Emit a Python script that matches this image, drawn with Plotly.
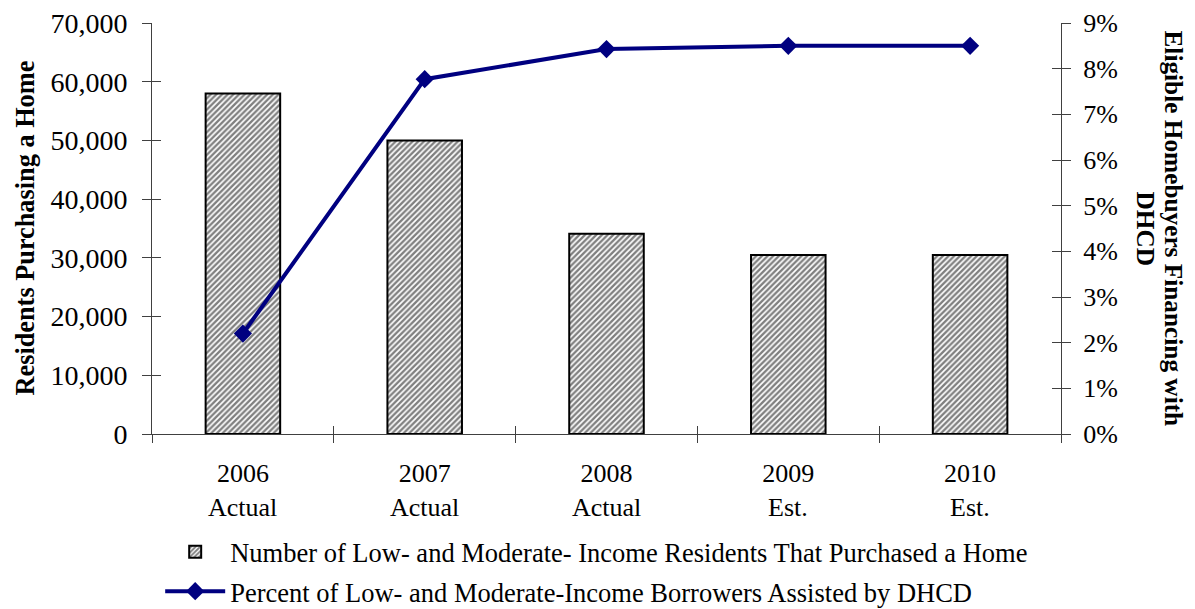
import plotly.graph_objects as go

# Homebuyer data, 2006-2010
years = ["2006", "2007", "2008", "2009", "2010"]
status = ["Actual", "Actual", "Actual", "Est.", "Est."]
residents_purchased = [58000, 50000, 34100, 30500, 30500]
pct_assisted = [0.022, 0.0777, 0.0843, 0.085, 0.085]

bar_name = "Number of Low- and Moderate- Income Residents That Purchased a Home"
line_name = "Percent of Low- and Moderate-Income Borrowers Assisted by DHCD"

FONT = "Liberation Serif"
AXIS_COLOR = "#404040"

# numeric slot for each year so the category boundaries can carry ticks
pos = list(range(len(years)))
x_range = [-0.5, len(years) - 0.5]
boundaries = [p - 0.5 for p in pos] + [pos[-1] + 0.5]

fig = go.Figure()

fig.add_trace(go.Bar(
    x=pos, y=residents_purchased, name=bar_name, legendgroup="bars",
    marker=dict(
        color="white",
        line=dict(color="black", width=2),
        pattern=dict(shape="/", fgcolor="black", bgcolor="white",
                     size=4, solidity=0.58),
    ),
    xaxis="x", yaxis="y",
))

fig.add_trace(go.Scatter(
    x=pos, y=pct_assisted, name=line_name, mode="lines+markers",
    legendgroup="line",
    line=dict(color="#000080", width=4),
    marker=dict(symbol="diamond", size=14, color="#000080"),
    xaxis="x", yaxis="y2",
))

# invisible carriers so the tick-only overlay axes get drawn
fig.add_trace(go.Scatter(x=x_range, y=[0, 0], mode="markers", opacity=0,
                         showlegend=False, hoverinfo="skip",
                         xaxis="x2", yaxis="y3"))
fig.add_trace(go.Scatter(x=x_range, y=[0, 0], mode="markers", opacity=0,
                         showlegend=False, hoverinfo="skip",
                         xaxis="x3", yaxis="y4"))

tick_only = dict(showticklabels=False, showline=False, showgrid=False,
                 zeroline=False, tickcolor=AXIS_COLOR, automargin=False)

fig.update_layout(
    width=1195, height=609,
    margin=dict(l=152, r=134, t=23, b=175, autoexpand=False),
    paper_bgcolor="white", plot_bgcolor="white",
    font=dict(family=FONT, color="black", size=26),
    bargap=0.59,
    showlegend=True,
    legend=dict(
        orientation="v", x=0.009, y=1 - 528 / 609, xanchor="left",
        yanchor="top", yref="container",
        font=dict(family=FONT, size=26.5), itemwidth=60,
        tracegroupgap=2, bgcolor="rgba(0,0,0,0)",
    ),
    xaxis=dict(
        range=x_range, tickvals=pos, ticktext=years, ticks="",
        showline=True, linecolor=AXIS_COLOR, linewidth=1,
        showgrid=False, zeroline=False, automargin=False,
        tickfont=dict(size=26), ticklabelstandoff=16,
    ),
    # boundary ticks below and above the x axis line
    xaxis2=dict(overlaying="x", range=x_range, tickvals=boundaries,
                ticks="outside", ticklen=8, **tick_only),
    xaxis3=dict(overlaying="x", range=x_range, tickvals=boundaries,
                ticks="inside", ticklen=8, **tick_only),
    yaxis=dict(
        range=[0, 70000], dtick=10000, tickformat=",d",
        ticks="outside", ticklen=9, tickcolor=AXIS_COLOR,
        showline=True, linecolor=AXIS_COLOR, linewidth=1,
        showgrid=False, zeroline=False, automargin=False,
        tickfont=dict(size=28), ticklabelstandoff=9,
    ),
    yaxis2=dict(
        overlaying="y", side="right", anchor="x",
        range=[0, 0.09], dtick=0.01, tickformat=".0%",
        ticks="outside", ticklen=9, tickcolor=AXIS_COLOR,
        showline=True, linecolor=AXIS_COLOR, linewidth=1,
        showgrid=False, zeroline=False, automargin=False,
        tickfont=dict(size=26), ticklabelstandoff=7,
    ),
    # inner halves of the crossing y ticks
    yaxis3=dict(overlaying="y", anchor="x2", range=[0, 70000], dtick=10000,
                ticks="inside", ticklen=9, **tick_only),
    yaxis4=dict(overlaying="y", anchor="x3", side="right", range=[0, 0.09],
                dtick=0.01, ticks="inside", ticklen=9, **tick_only),
)

# second row of category labels
for p, st in zip(pos, status):
    fig.add_annotation(
        x=p, y=0, xref="x", yref="paper", text=st, showarrow=False,
        yanchor="middle", yshift=-73, font=dict(family=FONT, size=26),
    )

# left axis title
fig.add_annotation(
    x=0, y=0.5, xref="paper", yref="paper", xanchor="center", yanchor="middle",
    xshift=-127, text="<b>Residents Purchasing a Home</b>", textangle=-90,
    showarrow=False, font=dict(family=FONT, size=26.3),
)

# right axis title, reading top to bottom, in two lines
fig.add_annotation(
    x=1, y=0.5, xref="paper", yref="paper", xanchor="center", yanchor="middle",
    xshift=113, text="<b>Eligible Homebuyers Financing with</b>",
    textangle=90, showarrow=False, font=dict(family=FONT, size=25.3),
)
fig.add_annotation(
    x=1, y=0.5, xref="paper", yref="paper", xanchor="center", yanchor="middle",
    xshift=85, text="<b>DHCD</b>",
    textangle=90, showarrow=False, font=dict(family=FONT, size=25.3),
)

fig.write_html("out.html")
